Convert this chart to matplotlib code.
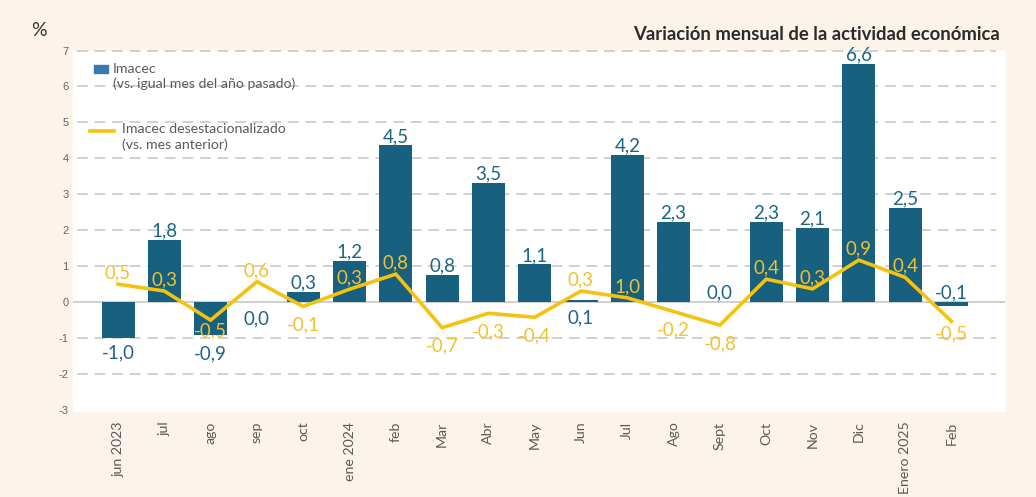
import matplotlib
matplotlib.use("Agg")
import matplotlib.pyplot as plt
from matplotlib.patches import Rectangle
from matplotlib.lines import Line2D
import numpy as np

plt.rcParams['font.family'] = ['Lato', 'DejaVu Sans']

# ---------------- data ----------------
months = ["jun 2023", "jul", "ago", "sep", "oct", "ene 2024", "feb", "Mar", "Abr",
          "May", "Jun", "Jul", "Ago", "Sept", "Oct", "Nov", "Dic", "Enero 2025", "Feb"]

# Imacec (vs. same month previous year) - bar heights as drawn
imacec = [-1.0, 1.72, -0.91, 0.0, 0.28, 1.15, 4.36, 0.75, 3.31,
          1.05, 0.07, 4.09, 2.23, 0.0, 2.23, 2.07, 6.62, 2.62, -0.10]
imacec_labels = ["-1,0", "1,8", "-0,9", "0,0", "0,3", "1,2", "4,5", "0,8", "3,5",
                 "1,1", "0,1", "4,2", "2,3", "0,0", "2,3", "2,1", "6,6", "2,5", "-0,1"]
imacec_pos = ["b", "a", "b", "b", "a", "a", "a", "a", "a",
              "a", "b", "a", "a", "a", "a", "a", "a", "a", "a"]

# Imacec desestacionalizado (vs. previous month) - line points as drawn
desest = [0.50, 0.31, -0.50, 0.57, -0.12, 0.36, 0.78, -0.71, -0.31,
          -0.42, 0.31, 0.12, -0.26, -0.64, 0.64, 0.37, 1.17, 0.69, -0.53]
desest_labels = ["0,5", "0,3", "-0,5", "0,6", "-0,1", "0,3", "0,8", "-0,7", "-0,3",
                 "-0,4", "0,3", "1,0", "-0,2", "-0,8", "0,4", "0,3", "0,9", "0,4", "-0,5"]
desest_pos = ["a", "a", "b", "a", "b", "a", "a", "b", "b",
              "b", "a", "a", "b", "b", "a", "a", "a", "a", "b"]

yticks = [-3, -2, -1, 0, 1, 2, 3, 4, 5, 6, 7]

# ---------------- style ----------------
BG = "#FCF3EB"
BAR = "#17607F"
BAR_TXT = "#1D6587"
YEL = "#F5C20F"
YEL_TXT = "#F2C12E"
GRAY = "#5a5a5a"
LBL_SIZE = 13.5
bar_below_dy = {2: -7.5, 3: -6, 10: -5}      # label offsets (points) for some labels
line_below_dy = {2: -1.5, 18: -3}

W, H = 1036, 497
fig = plt.figure(figsize=(W / 100, H / 100), dpi=100, facecolor=BG)
ax_l, ax_r, ax_t, ax_b = 73, 1005, 50.5, 411.8
ax = fig.add_axes([ax_l / W, 1 - ax_b / H, (ax_r - ax_l) / W, (ax_b - ax_t) / H])
ax.set_facecolor("white")

step = 46.3
first = 118
x = np.arange(len(months))
ax.set_xlim((ax_l - first) / step, (ax_r - first) / step)
ax.set_ylim(-3.05, 7)

def fx(px):
    return (px - ax_l) / (ax_r - ax_l)

def fy(py):
    return (ax_b - py) / (ax_b - ax_t)

# grid
for t in yticks:
    if t == -3:
        continue
    if t == 0:
        ax.axhline(0, xmin=0, xmax=1, color="#cfcfcf", lw=1.4, zorder=1)
    else:
        ax.axhline(t, xmin=fx(77), xmax=fx(996), color="#c4c4c4", lw=1.1,
                   dashes=(7, 4.5), zorder=1, clip_on=False)

ax.bar(x, imacec, width=33 / step, color=BAR, zorder=2)
ax.plot(x, desest, color=YEL, lw=2.6, zorder=4, solid_joinstyle="miter")

# bar labels
for i, (xi, v, lab, p) in enumerate(zip(x, imacec, imacec_labels, imacec_pos)):
    if p == "a":
        ax.annotate(lab, (xi, max(v, 0)), xytext=(0, 2.5), textcoords="offset points",
                    ha="center", va="baseline", fontsize=LBL_SIZE, color=BAR_TXT, zorder=5)
    else:
        ax.annotate(lab, (xi, min(v, 0)), xytext=(0, bar_below_dy.get(i, -4.5)),
                    textcoords="offset points", ha="center", va="top",
                    fontsize=LBL_SIZE, color=BAR_TXT, zorder=5)

# line labels
for i, (xi, v, lab, p) in enumerate(zip(x, desest, desest_labels, desest_pos)):
    if p == "a":
        ax.annotate(lab, (xi, v), xytext=(0, 4), textcoords="offset points",
                    ha="center", va="baseline", fontsize=LBL_SIZE, color=YEL_TXT, zorder=6)
    else:
        ax.annotate(lab, (xi, v), xytext=(0, line_below_dy.get(i, -7)),
                    textcoords="offset points", ha="center", va="top",
                    fontsize=LBL_SIZE, color=YEL_TXT, zorder=6)

# axes styling
for s in ax.spines.values():
    s.set_visible(False)
ax.set_yticks(yticks)
ax.set_yticklabels([str(t) for t in yticks], fontsize=8, color="#666666",
                   family=["Liberation Sans", "DejaVu Sans"])
ax.set_xticks(x)
ax.set_xticklabels(months, rotation=90, fontsize=10.2, color=GRAY)
ax.tick_params(axis="both", length=0)
ax.tick_params(axis="y", pad=3)
ax.tick_params(axis="x", pad=7)

# legend (manual)
ax.add_patch(Rectangle((fx(94), fy(73)), 14 / (ax_r - ax_l), 8 / (ax_b - ax_t),
                       transform=ax.transAxes, color="#3A78AE", zorder=6, clip_on=False))
ax.text(fx(113), fy(69), "Imacec", transform=ax.transAxes, va="center", ha="left",
        fontsize=10.2, color=GRAY, zorder=6)
ax.text(fx(113), fy(84), "(vs. igual mes del año pasado)", transform=ax.transAxes,
        va="center", ha="left", fontsize=10.2, color=GRAY, zorder=6)
ax.add_line(Line2D([fx(90), fx(114)], [fy(131), fy(131)], transform=ax.transAxes,
                   color=YEL, lw=2.6, zorder=6))
ax.text(fx(122), fy(129), "Imacec desestacionalizado", transform=ax.transAxes,
        va="center", ha="left", fontsize=10.2, color=GRAY, zorder=6)
ax.text(fx(122), fy(145), "(vs. mes anterior)", transform=ax.transAxes,
        va="center", ha="left", fontsize=10.2, color=GRAY, zorder=6)

fig.text(39 / W, 1 - 30 / H, "%", ha="center", va="center", fontsize=14, color="#333333")
fig.text(1000 / W, 1 - 40 / H, "Variación mensual de la actividad económica",
         ha="right", va="baseline", fontsize=13.3, fontweight="bold", color="#2b2b2b")

fig.savefig("out.png", dpi=100, facecolor=BG)
